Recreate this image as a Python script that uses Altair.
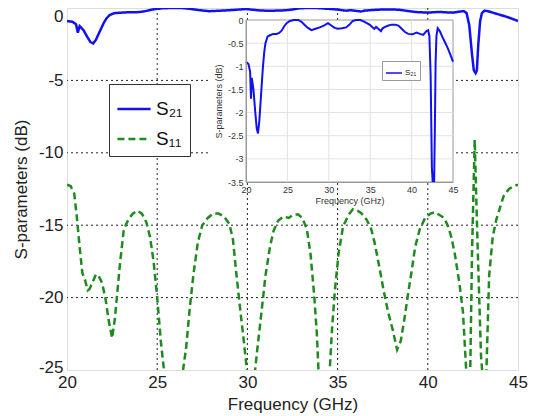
import altair as alt
import pandas as pd

# ---- data ----
s21_freq = [20.0, 20.3, 20.5, 20.6, 20.7, 20.9, 21.1, 21.3, 21.45, 21.6, 21.75, 21.9, 22.05, 22.2, 22.35,
            22.6, 22.9, 23.3, 23.7, 24.0, 24.3, 24.6, 24.9, 25.3, 25.8, 26.3, 26.7, 27.0, 27.4, 27.9,
            28.4, 28.9, 29.4, 29.9, 30.3, 30.7, 31.1, 31.6, 32.1, 32.5, 32.9, 33.3, 33.8, 34.2, 34.6,
            35.0, 35.3, 35.5, 35.7, 35.9, 36.1, 36.3, 36.5, 36.8, 37.2, 37.6, 38.0, 38.4, 38.8, 39.2,
            39.6, 40.1, 40.6, 41.0, 41.4, 41.8, 42.0, 42.15, 42.3, 42.45, 42.55, 42.65, 42.72, 42.8,
            42.9, 43.0, 43.15, 43.4, 43.7, 44.0, 44.3, 44.65, 45.0]
s21_db = [-0.90, -0.95, -1.12, -1.70, -1.25, -1.50, -1.95, -2.35, -2.45, -2.20, -1.80, -1.40, -1.00, -0.70, -0.50,
          -0.36, -0.33, -0.30, -0.30, -0.28, -0.23, -0.14, -0.07, -0.02, 0.0, 0.0, -0.04, -0.09, -0.16, -0.22,
          -0.19, -0.16, -0.12, -0.07, -0.12, -0.17, -0.19, -0.18, -0.16, -0.10, -0.02, 0.0, 0.0, -0.03, -0.07,
          -0.11, -0.16, -0.19, -0.15, -0.18, -0.21, -0.24, -0.18, -0.15, -0.12, -0.10, -0.10, -0.12, -0.19, -0.26,
          -0.30, -0.31, -0.27, -0.30, -0.32, -0.24, -0.22, -0.35, -1.20, -3.20, -4.30, -4.50, -4.30, -2.50,
          -0.90, -0.35, -0.18, -0.24, -0.36, -0.47, -0.58, -0.73, -0.90]

s11_freq = [20.0, 20.2, 20.4, 20.55, 20.7, 20.85, 21.0, 21.15, 21.25, 21.4, 21.6, 21.75, 21.95, 22.15, 22.3,
            22.5, 22.65, 22.8, 22.95, 23.15, 23.4, 23.65, 23.9, 24.15, 24.4, 24.6, 24.8, 25.0, 25.2, 25.4,
            25.9, 26.4, 26.6, 26.8, 27.0, 27.25, 27.5, 27.8, 28.1, 28.4, 28.7, 29.0, 29.2, 29.4, 29.6,
            29.8, 30.0, 30.2, 30.4, 30.6, 30.8, 31.0, 31.25, 31.45, 31.7, 32.0, 32.3, 32.5, 32.8, 33.05,
            33.3, 33.5, 33.7, 33.85, 33.95, 34.25, 34.55, 34.7, 34.85, 35.05, 35.3, 35.6, 35.85, 36.1, 36.3,
            36.6, 36.85, 37.05, 37.3, 37.55, 37.8, 38.05, 38.3, 38.5, 38.7, 38.9, 39.1, 39.3, 39.55, 39.85,
            40.15, 40.4, 40.65, 40.9, 41.1, 41.3, 41.5, 41.75, 41.95, 42.15, 42.25, 42.35, 42.45, 42.6, 42.75,
            42.95, 43.1, 43.25, 43.4, 43.6, 43.8, 44.0, 44.2, 44.5, 44.8, 45.0]
s11_db = [-12.2, -12.3, -12.8, -14.5, -16.5, -18.3, -18.8, -19.5, -19.4, -19.0, -18.4, -18.5, -19.0, -20.2, -21.5,
          -22.8, -21.5, -19.5, -17.5, -15.3, -14.6, -14.2, -14.0, -14.2, -14.8, -15.8, -17.5, -20.0, -23.0, -25.3,
          -30.0, -25.3, -23.5, -20.8, -18.5, -16.2, -15.0, -14.5, -14.2, -14.2, -14.4, -14.9, -16.0, -18.5, -20.8,
          -23.0, -25.3, -27.0, -25.3, -23.0, -20.8, -18.5, -16.5, -15.4, -14.7, -14.4, -14.5, -14.3, -14.25, -14.5,
          -15.3, -17.0, -19.8, -22.5, -25.3, -28.0, -25.3, -22.0, -19.5, -17.0, -15.1, -14.3, -13.9, -14.0, -14.15,
          -14.6, -15.2, -16.2, -17.8, -19.5, -21.0, -22.2, -23.6, -23.0, -21.5, -19.8, -18.2, -16.5, -15.3, -14.5,
          -14.2, -14.1, -14.3, -14.5, -15.0, -15.8, -17.0, -19.0, -21.0, -25.5, -26.5, -25.3, -17.0, -9.1, -16.0,
          -24.0, -26.5, -25.0, -18.5, -15.8, -14.6, -13.8, -13.0, -12.5, -12.3, -12.2]

main_x_ticks = [20, 25, 30, 35, 40, 45]
main_y_ticks = [-25, -20, -15, -10, -5, 0]
main_x_grid = [25, 30, 35, 40]
main_y_grid = [-5, -10, -15, -20]
inset_x_ticks = [20, 25, 30, 35, 40, 45]
inset_y_ticks = [0, -0.5, -1, -1.5, -2, -2.5, -3, -3.5]

S21 = "S₂₁"
S11 = "S₁₁"

# ---- layout constants (pixels) ----
W, H = 451, 362
INSET_X = [179, 386]   # inset plot area within main plot
INSET_Y = [174, 12]

BLUE = "#1010f0"
GREEN = "#1f8a1f"
FONT = "Liberation Sans"

main_df = pd.concat([
    pd.DataFrame({"f": s21_freq, "v": s21_db, "series": S21}),
    pd.DataFrame({"f": s11_freq, "v": s11_db, "series": S11}),
])

mx = alt.Scale(domain=[20, 45], nice=False, zero=False)
my = alt.Scale(domain=[-25, 0], nice=False, zero=False)

legend_main = alt.Legend(title=None, orient="none", legendX=42, legendY=76,
                         strokeColor="#333", fillColor="white", padding=7,
                         labelFontSize=19, labelFont=FONT, labelColor="#111",
                         symbolType="stroke", symbolSize=1100, symbolStrokeWidth=2.5,
                         rowPadding=2, labelOffset=4)

main_lines = alt.Chart(main_df).mark_line(strokeWidth=2.5, clip=True).encode(
    x=alt.X("f:Q", scale=mx, title="Frequency (GHz)",
            axis=alt.Axis(values=main_x_ticks, grid=False, ticks=False, domain=False,
                          labelFontSize=17, titleFontSize=17, labelColor="#222", titleColor="#222",
                          labelFont=FONT, titleFont=FONT, titleFontWeight="normal",
                          labelPadding=4, titlePadding=6, labelFlush=False, labelOverlap=False,
                          labelExpr="datum.value + ''")),
    y=alt.Y("v:Q", scale=my, title="S-parameters (dB)",
            axis=alt.Axis(values=main_y_ticks, grid=False, ticks=False, domain=False,
                          labelFontSize=17, titleFontSize=17, labelColor="#222", titleColor="#222",
                          labelFont=FONT, titleFont=FONT, titleFontWeight="normal",
                          labelPadding=4, titlePadding=8, labelFlush=False, labelOverlap=False,
                          labelOffset={"condition": [{"test": "datum.value == 0", "value": 8},
                                                     {"test": "datum.value == -25", "value": -3}],
                                       "value": 0},
                          labelExpr="datum.value + ''")),
    color=alt.Color("series:N", scale=alt.Scale(domain=[S21, S11], range=[BLUE, GREEN]),
                    legend=legend_main),
    strokeDash=alt.StrokeDash("series:N", scale=alt.Scale(domain=[S21, S11], range=[[1, 0], [7, 4]]),
                              legend=legend_main),
    order=alt.Order("f:Q"),
)

vgrid = alt.Chart(pd.DataFrame({"f": main_x_grid})).mark_rule(
    color="#222", strokeWidth=1, strokeDash=[2, 3]).encode(x=alt.X("f:Q", scale=mx))
hgrid = alt.Chart(pd.DataFrame({"v": main_y_grid})).mark_rule(
    color="#222", strokeWidth=1, strokeDash=[2, 3]).encode(y=alt.Y("v:Q", scale=my))

main = alt.layer(vgrid, hgrid, main_lines)

# ---- inset ----
ix = alt.Scale(domain=[20, 45], range=INSET_X, nice=False, zero=False)
iy = alt.Scale(domain=[-3.5, 0], range=INSET_Y, nice=False, zero=False)

bg = alt.Chart(pd.DataFrame({"a": [15.6], "b": [45.3], "c": [-4.1], "d": [0.13]})).mark_rect(
    fill="white").encode(
    x=alt.X("a:Q", scale=ix,
            axis=alt.Axis(orient="bottom", offset=-(H - INSET_Y[0]), values=inset_x_ticks, grid=False,
                          ticks=False, domainColor="#999", labelFontSize=9, titleFontSize=9,
                          labelColor="#333", titleColor="#333", labelFont=FONT, titleFont=FONT,
                          titleFontWeight="normal", labelPadding=3, titlePadding=2, labelFlush=False,
                          labelOverlap=False, zindex=1, title="Frequency (GHz)",
                          labelExpr="datum.value + ''")),
    x2="b:Q",
    y=alt.Y("c:Q", scale=iy,
            axis=alt.Axis(orient="left", offset=-INSET_X[0], values=inset_y_ticks, grid=False,
                          ticks=False, domainColor="#999", labelFontSize=9, titleFontSize=9,
                          labelColor="#333", titleColor="#333", labelFont=FONT, titleFont=FONT,
                          titleFontWeight="normal", labelPadding=3, titlePadding=4, labelFlush=False,
                          labelOverlap=False, zindex=1, title="S-parameters (dB)",
                          labelExpr="datum.value + ''")),
    y2="d:Q",
)

frame = alt.Chart(pd.DataFrame({"a": [20], "b": [45], "c": [-3.5], "d": [0]})).mark_rect(
    fill="white", stroke="#999", strokeWidth=1).encode(
    x=alt.X("a:Q", scale=ix), x2="b:Q", y=alt.Y("c:Q", scale=iy), y2="d:Q")

igx = alt.Chart(pd.DataFrame({"f": inset_x_ticks[1:-1]})).mark_rule(
    color="#e2e2e2", strokeWidth=1).encode(x=alt.X("f:Q", scale=ix),
                                           y=alt.datum(-3.5, scale=iy), y2=alt.datum(0))
igy = alt.Chart(pd.DataFrame({"v": inset_y_ticks[1:-1]})).mark_rule(
    color="#e2e2e2", strokeWidth=1).encode(y=alt.Y("v:Q", scale=iy),
                                           x=alt.datum(20, scale=ix), x2=alt.datum(45))

inset_df = pd.DataFrame({"f": s21_freq, "v": s21_db, "series": S21})
inset_line = alt.Chart(inset_df).mark_line(strokeWidth=2).encode(
    x=alt.X("f:Q", scale=ix),
    y=alt.Y("v:Q", scale=alt.Scale(domain=[-3.5, 0], range=INSET_Y, nice=False, zero=False, clamp=True)),
    color=alt.Color("series:N", scale=alt.Scale(domain=[S21], range=[BLUE]),
                    legend=alt.Legend(title=None, orient="none", legendX=315, legendY=53,
                                      strokeColor="#999", fillColor="white", padding=3,
                                      labelFontSize=8, labelFont=FONT, labelColor="#222",
                                      symbolType="stroke", symbolSize=256, symbolStrokeWidth=1.5,
                                      labelOffset=2)),
    order=alt.Order("f:Q"),
)

inset = alt.layer(bg, frame, igx, igy, inset_line)

chart = alt.layer(main, inset).resolve_scale(
    x="independent", y="independent", color="independent", strokeDash="independent"
).resolve_axis(x="independent", y="independent").properties(
    width=W, height=H,
    autosize=alt.AutoSizeParams(type="none"),
    padding={"left": 59, "top": 0, "right": 10, "bottom": 46},
).configure_view(stroke="#808080", strokeWidth=1).configure(background="white")

chart.save("out.html", embed_options={"renderer": "svg", "actions": False})
